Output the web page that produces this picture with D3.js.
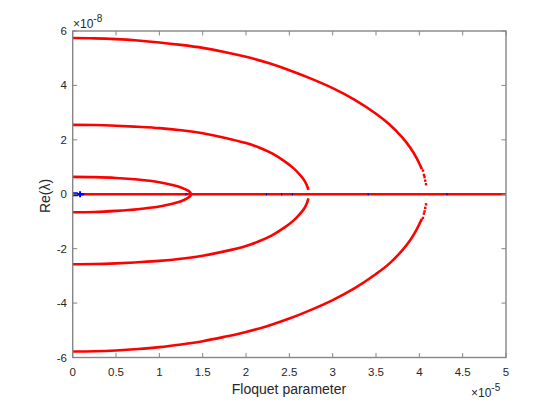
<!DOCTYPE html>
<html><head><meta charset="utf-8">
<script src="https://cdn.jsdelivr.net/npm/d3@7"></script>
<style>
body{margin:0;background:#fff;}
svg{display:block;font-family:"Liberation Sans",Arial,sans-serif;}
</style></head>
<body><svg id="c" width="560" height="420"></svg>
<script>
// x in units of 1e-5, y in units of 1e-8
const xTicks = [0,0.5,1,1.5,2,2.5,3,3.5,4,4.5,5];
const yTicks = [-6,-4,-2,0,2,4,6];
const xTickLabels = ["0","0.5","1","1.5","2","2.5","3","3.5","4","4.5","5"];
const yTickLabels = ["-6","-4","-2","0","2","4","6"];

const outerUpperX = [0,0.25,0.5,0.75,1.0,1.25,1.5,1.75,2.0,2.25,2.5,2.75,3.0,3.25,3.5,3.65,3.8,3.9,3.97,4.01,4.03];
const outerUpperY = [5.74,5.73,5.70,5.65,5.58,5.49,5.38,5.23,5.05,4.83,4.56,4.25,3.90,3.48,2.96,2.58,2.10,1.69,1.32,1.06,0.92];
const outerLowerX = [0,0.25,0.5,0.75,1.0,1.25,1.5,1.75,2.0,2.25,2.5,2.75,3.0,3.25,3.5,3.65,3.8,3.9,3.97,4.01,4.03];
const outerLowerY = [-5.78,-5.77,-5.74,-5.69,-5.62,-5.52,-5.40,-5.24,-5.06,-4.84,-4.57,-4.25,-3.89,-3.46,-2.93,-2.56,-2.07,-1.66,-1.29,-1.03,-0.90];
const outerTipDotsX = [4.042,4.053,4.060,4.068,4.077,4.077,4.068,4.060,4.053,4.042];
const outerTipDotsY = [0.87,0.71,0.63,0.50,0.37,-0.37,-0.50,-0.63,-0.71,-0.87];

const midUpperX = [0,0.25,0.5,0.75,1.0,1.25,1.5,1.75,2.0,2.15,2.3,2.45,2.55,2.62,2.67,2.70,2.72];
const midUpperY = [2.55,2.545,2.52,2.48,2.43,2.35,2.24,2.08,1.88,1.72,1.50,1.20,0.95,0.72,0.52,0.34,0.16];
const midLowerX = [0,0.25,0.5,0.75,1.0,1.25,1.5,1.75,2.0,2.15,2.3,2.45,2.55,2.62,2.67,2.70,2.72];
const midLowerY = [-2.57,-2.565,-2.54,-2.50,-2.45,-2.37,-2.26,-2.10,-1.90,-1.73,-1.51,-1.21,-0.96,-0.73,-0.53,-0.35,-0.15];

const innerUpperX = [0,0.25,0.5,0.75,1.0,1.15,1.25,1.32,1.355,1.365];
const innerUpperY = [0.64,0.63,0.60,0.54,0.44,0.34,0.25,0.15,0.07,0.0];
const innerLowerX = [0,0.25,0.5,0.75,1.0,1.15,1.25,1.32,1.355];
const innerLowerY = [-0.66,-0.65,-0.61,-0.55,-0.45,-0.35,-0.26,-0.15,-0.07];

const zeroLineX = [0,5];
const blueNearX = [0,0.02,0.04,0.06,0.135];
const bluePlusX = [0.085];
const blueDotsX = [1.307,2.236,2.411,2.536,3.41,4.318];

const svg = d3.select("#c");
const L=72.7,R=506,T=31,B=357.5;
const x = d3.scaleLinear().domain([0,5]).range([L,R]);
const y = d3.scaleLinear().domain([-6,6]).range([B,T]);
const red="#ff0000", blue="#0000ff", axisCol="#868686", txt="#262626";

const zip=(a,b)=>a.map((v,i)=>[v,b[i]]);
const line = d3.line().x(d=>x(d[0])).y(d=>y(d[1])).curve(d3.curveCatmullRom.alpha(0.5));
const straight = d3.line().x(d=>x(d[0])).y(d=>y(d[1]));

const g = svg.append("g");
// zero line
g.append("path").attr("d", straight(zeroLineX.map(v=>[v,0]))).attr("fill","none").attr("stroke",red).attr("stroke-width",2.6);

[[outerUpperX,outerUpperY],[outerLowerX,outerLowerY],[midUpperX,midUpperY],[midLowerX,midLowerY]].forEach(([a,b])=>{
  g.append("path").attr("d", line(zip(a,b))).attr("fill","none").attr("stroke",red).attr("stroke-width",2.6);
});
// inner loop: upper branch then lower branch back
const innerPts = zip(innerUpperX,innerUpperY).concat(zip(innerLowerX,innerLowerY).reverse());
g.append("path").attr("d", line(innerPts)).attr("fill","none").attr("stroke",red).attr("stroke-width",2.6);

g.selectAll(".tip").data(zip(outerTipDotsX,outerTipDotsY)).enter().append("rect")
  .attr("x",d=>x(d[0])-1.2).attr("y",d=>y(d[1])-1.2).attr("width",2.4).attr("height",2.4).attr("fill",red);

// blue points
g.append("path").attr("d", straight(blueNearX.map(v=>[v,0]))).attr("fill","none").attr("stroke",blue).attr("stroke-width",2);
g.append("rect").attr("x",x(blueNearX[0])).attr("y",y(0)-2).attr("width",x(blueNearX[3])-x(blueNearX[0])).attr("height",4).attr("fill",blue);
bluePlusX.forEach(v=>{
  g.append("line").attr("x1",x(v)).attr("x2",x(v)).attr("y1",y(0)-3).attr("y2",y(0)+3).attr("stroke",blue).attr("stroke-width",2);
  g.append("line").attr("x1",x(v)-3).attr("x2",x(v)+3).attr("y1",y(0)).attr("y2",y(0)).attr("stroke",blue).attr("stroke-width",2);
});
g.selectAll(".bd").data(blueDotsX).enter().append("rect")
  .attr("x",d=>x(d)-0.6).attr("y",y(0)-1.2).attr("width",1.2).attr("height",2.4).attr("fill",blue);

// axes box
const ax = svg.append("g").attr("stroke",axisCol).attr("stroke-width",1.4).attr("fill","none");
ax.append("rect").attr("x",L).attr("y",T).attr("width",R-L).attr("height",B-T);
xTicks.forEach(v=>{
  ax.append("line").attr("x1",x(v)).attr("x2",x(v)).attr("y1",B).attr("y2",B-4.5).attr("stroke-width",1);
  ax.append("line").attr("x1",x(v)).attr("x2",x(v)).attr("y1",T).attr("y2",T+4.5).attr("stroke-width",1);
});
yTicks.forEach(v=>{
  ax.append("line").attr("x1",L).attr("x2",L+4.5).attr("y1",y(v)).attr("y2",y(v)).attr("stroke-width",1);
  ax.append("line").attr("x1",R).attr("x2",R-4.5).attr("y1",y(v)).attr("y2",y(v)).attr("stroke-width",1);
});

// tick labels
const tl = svg.append("g").attr("fill",txt).style("font-size","11.5px");
xTicks.forEach((v,i)=>{
  tl.append("text").attr("x",x(v)).attr("y",376).attr("text-anchor","middle").text(xTickLabels[i]);
});
yTicks.forEach((v,i)=>{
  tl.append("text").attr("x",67).attr("y",y(v)+4).attr("text-anchor","end").text(yTickLabels[i]);
});

// axis labels
svg.append("text").attr("x",289).attr("y",394).attr("text-anchor","middle").attr("fill",txt).style("font-size","14px").text("Floquet parameter");
svg.append("text").attr("transform","translate(50,196) rotate(-90)").attr("text-anchor","middle").attr("fill",txt).style("font-size","14px").text("Re(λ)");

// exponents
const e1 = svg.append("text").attr("x",73).attr("y",27.5).attr("fill",txt).style("font-size","12px");
e1.append("tspan").text("×10");
e1.append("tspan").attr("dy",-6).style("font-size","10px").text("-8");
const e2 = svg.append("text").attr("x",471).attr("y",397).attr("fill",txt).style("font-size","12px");
e2.append("tspan").text("×10");
e2.append("tspan").attr("dy",-6).style("font-size","10px").text("-5");
</script></body></html>
